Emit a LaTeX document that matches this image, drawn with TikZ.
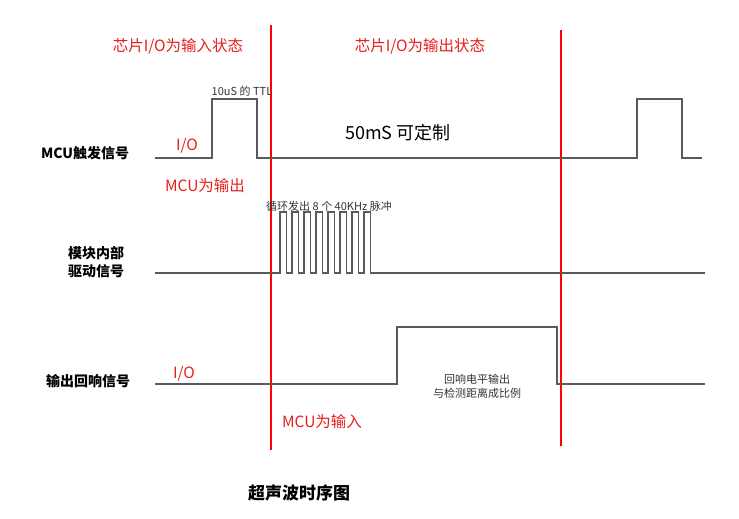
\documentclass[tikz,border=0pt]{standalone}
\usepackage{fontspec}
\setmainfont{Noto Sans CJK SC}
\definecolor{redline}{RGB}{230,30,30}
\definecolor{wave}{RGB}{90,90,90}
\begin{document}
\begin{tikzpicture}[x=1pt,y=-1pt,
  sig/.style={wave,line width=1.6pt},
  divider/.style={draw={rgb,255:red,255;green,0;blue,0},line width=1.05pt},
  redtxt/.style={text=redline,font=\fontsize{15.5}{18}\selectfont,inner sep=0pt},
  lbl/.style={font=\bfseries\fontsize{14}{18}\selectfont,inner sep=0pt,align=center},
  small/.style={font=\fontsize{11}{14}\selectfont,inner sep=0pt,align=center,text=black!80}]
\useasboundingbox (0,0) rectangle (739,519);

% red dividers
\draw[divider] (271,25) -- (271,450);
\draw[divider] (561,30) -- (561,446);
\node[redtxt] (inst) at (178,46) {芯片I/O为输入状态};
\node[redtxt] (outst) at (420,46) {芯片I/O为输出状态};

% trigger row
\draw[sig] (155,158) -- (212,158) -- (212,99) -- (257,99) -- (257,158)
  -- (637,158) -- (637,99) -- (682,99) -- (682,158) -- (702,158);
\node[lbl] (trig) at (85,153) {MCU触发信号};
\node[redtxt] (io1) at (187,146) {I/O};
\node[redtxt] (mcuout) at (205,186) {MCU为输出};
\node[small] (ttl) at (242,91) {10uS 的 TTL};
\node[font=\fontsize{18}{20}\selectfont,inner sep=0pt] (fifty) at (398,133) {50mS\ 可定制};

% drive row
\draw[sig,line width=1.2pt] (155,273) -- (280,273)
  \foreach \i in {0,...,7} {-- ++(0,-61) -- ++(6.5,0) -- ++(0,61) -- ++(5.5,0)}
  -- (705,273);
\node[lbl] (drv) at (96,262) {模块内部\\驱动信号};
\node[small] (burst) at (329,206) {循环发出 8 个 40KHz 脉冲};

% echo row
\draw[sig] (155,384) -- (397,384) -- (397,327) -- (557,327) -- (557,384) -- (705,384);
\node[lbl] (echo) at (88,381) {输出回响信号};
\node[redtxt] (io2) at (184,374) {I/O};
\node[small] (echotxt) at (477,386) {回响电平输出\\与检测距离成比例};
\node[redtxt] (mcuin) at (322,422) {MCU为输入};

\node[lbl,font=\bfseries\fontsize{17}{20}\selectfont] (title) at (299,493) {超声波时序图};
\end{tikzpicture}
\end{document}
